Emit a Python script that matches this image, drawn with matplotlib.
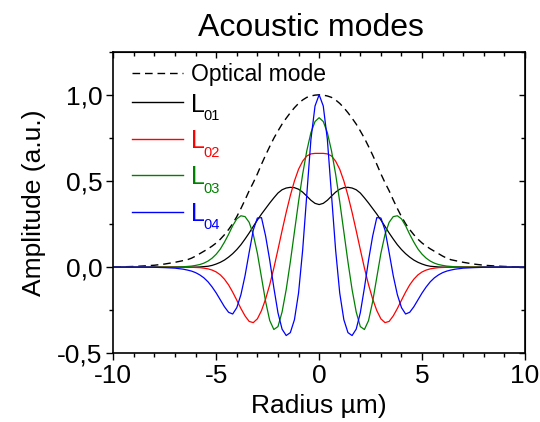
import numpy as np
import matplotlib
matplotlib.use('Agg')
import matplotlib.pyplot as plt
from matplotlib.lines import Line2D
from matplotlib.ticker import MultipleLocator

plt.rcParams['font.family'] = ['Liberation Sans', 'DejaVu Sans']

# radial profiles (r >= 0), curves are symmetric in radius
radius = [0.0, 0.2, 0.4, 0.6, 0.8, 1.0, 1.2, 1.4, 1.6, 1.8,
          2.0, 2.2, 2.4, 2.6, 2.8, 3.0, 3.2, 3.4, 3.6, 3.8,
          4.0, 4.2, 4.4, 4.6, 4.8, 5.0, 5.2, 5.4, 5.6, 5.8,
          6.0, 6.2, 6.4, 6.6, 6.8, 7.0, 7.5, 8.0, 8.5, 9.0, 9.5, 10.0]

optical = [1.000, 0.998, 0.993, 0.985, 0.970, 0.950, 0.925, 0.896, 0.864, 0.830,
           0.790, 0.748, 0.700, 0.650, 0.597, 0.541, 0.490, 0.443, 0.390, 0.340,
           0.293, 0.252, 0.218, 0.188, 0.162, 0.140, 0.122, 0.106, 0.092, 0.078,
           0.064, 0.052, 0.043, 0.038, 0.033, 0.028, 0.018, 0.011, 0.007, 0.004, 0.002, 0.001]

l01 = [0.363, 0.370, 0.388, 0.412, 0.435, 0.452, 0.461, 0.463, 0.459, 0.449,
       0.430, 0.402, 0.372, 0.340, 0.308, 0.273, 0.236, 0.198, 0.163, 0.130,
       0.102, 0.078, 0.058, 0.041, 0.028, 0.018, 0.010, 0.005, 0.003, 0.001,
       0.0, 0.0, 0.0, 0.0, 0.0, 0.0, 0.0, 0.0, 0.0, 0.0, 0.0, 0.0]

l02 = [0.660, 0.660, 0.657, 0.645, 0.615, 0.568, 0.500, 0.415, 0.318, 0.212,
       0.102, -0.005, -0.102, -0.185, -0.252, -0.300, -0.322, -0.315, -0.283, -0.240,
       -0.192, -0.145, -0.103, -0.070, -0.045, -0.028, -0.017, -0.010, -0.006, -0.003,
       -0.002, -0.001, 0.0, 0.0, 0.0, 0.0, 0.0, 0.0, 0.0, 0.0, 0.0, 0.0]

l03 = [0.867, 0.845, 0.780, 0.675, 0.540, 0.380, 0.205, 0.030, -0.130, -0.260,
       -0.345, -0.362, -0.310, -0.200, -0.060, 0.080, 0.190, 0.260, 0.293, 0.298,
       0.280, 0.240, 0.190, 0.145, 0.105, 0.075, 0.052, 0.035, 0.023, 0.015,
       0.010, 0.006, 0.004, 0.002, 0.001, 0.0, 0.0, 0.0, 0.0, 0.0, 0.0, 0.0]

l04 = [1.000, 0.935, 0.740, 0.420, 0.100, -0.150, -0.305, -0.380, -0.397, -0.360,
       -0.265, -0.120, 0.040, 0.180, 0.287, 0.285, 0.215, 0.085, -0.050, -0.160,
       -0.235, -0.272, -0.262, -0.230, -0.190, -0.150, -0.115, -0.085, -0.062, -0.045,
       -0.032, -0.023, -0.017, -0.012, -0.009, -0.006, -0.003, -0.001, 0.0, 0.0, 0.0, 0.0]

mode_names = ['01', '02', '03', '04']
mode_colors = ['black', '#ff0000', '#008000', '#0000ff']

W, H = 540, 422


def mirror(r, v):
    r = np.asarray(r)
    v = np.asarray(v)
    return np.concatenate([-r[::-1], r[1:]]), np.concatenate([v[::-1], v[1:]])


def fpos(px, py):
    return px / W, 1 - py / H


fig = plt.figure(figsize=(5.4, 4.22), dpi=100)
ax = fig.add_axes([0.2098, 0.1628, 0.7624, 0.7147])

dash = (0, (5.5, 3.5))
x, y = mirror(radius, optical)
ax.plot(x, y, color='black', linestyle=dash, linewidth=1.0)
for prof, c in zip([l01, l02, l03, l04], mode_colors):
    x, y = mirror(radius, prof)
    ax.plot(x, y, color=c, linewidth=0.9)

ax.set_xlim(-10, 10)
ax.set_ylim(-0.5, 1.25)
ax.set_xticks([-10, -5, 0, 5, 10])
ax.set_xticklabels(['-10', '-5', '0', '5', '10'])
ax.set_yticks([-0.5, 0.0, 0.5, 1.0])
ax.set_yticklabels(['-0,5', '0,0', '0,5', '1,0'])
ax.xaxis.set_minor_locator(MultipleLocator(1))
ax.yaxis.set_minor_locator(MultipleLocator(0.25))
ax.tick_params(which='both', labelsize=19, width=1.0, pad=3)
ax.tick_params(which='major', length=5)
ax.tick_params(which='minor', length=3)
for s in ax.spines.values():
    s.set_linewidth(1.2)

# inward ticks on top and right
top = ax.secondary_xaxis('top')
top.set_xticks([-10, -5, 0, 5, 10])
top.xaxis.set_minor_locator(MultipleLocator(1))
top.tick_params(which='both', direction='in', labeltop=False, width=1.0)
top.tick_params(which='major', length=4)
top.tick_params(which='minor', length=3)
right = ax.secondary_yaxis('right')
right.set_yticks([-0.5, 0.0, 0.5, 1.0])
right.yaxis.set_minor_locator(MultipleLocator(0.25))
right.tick_params(which='both', direction='in', labelright=False, width=1.0)
right.tick_params(which='major', length=4)
right.tick_params(which='minor', length=3)

ax.set_xlabel('Radius µm)', fontsize=19, labelpad=4)
ax.set_ylabel('Amplitude (a.u.)', fontsize=19, labelpad=8)
ax.set_title('Acoustic modes', fontsize=23, pad=11, x=0.48)

# legend drawn by hand to match the uneven row spacing
line_x0, line_x1, text_x = 131.7, 183.3, 190.7
rows_y = [102.3, 139.0, 175.0, 211.7]
y0 = 73.3
fig.add_artist(Line2D([fpos(line_x0, y0)[0], fpos(line_x1, y0)[0]],
                      [fpos(line_x0, y0)[1]] * 2, color='black',
                      linestyle=dash, linewidth=1.0))
fig.text(*fpos(text_x, y0 + 7.6), 'Optical mode', fontsize=16.5,
         color='black', va='baseline', ha='left')
for name, c, ry in zip(mode_names, mode_colors, rows_y):
    fig.add_artist(Line2D([fpos(line_x0, ry)[0], fpos(line_x1, ry)[0]],
                          [fpos(line_x0, ry)[1]] * 2, color=c, linewidth=1.0))
    fig.text(*fpos(text_x, ry + 9.2), 'L', fontsize=18, color=c,
             va='baseline', ha='left')
    fig.text(*fpos(text_x + 13.0, ry + 17.5), name, fontsize=10.5, color=c,
             va='baseline', ha='left')

fig.savefig('out.png', dpi=100)
